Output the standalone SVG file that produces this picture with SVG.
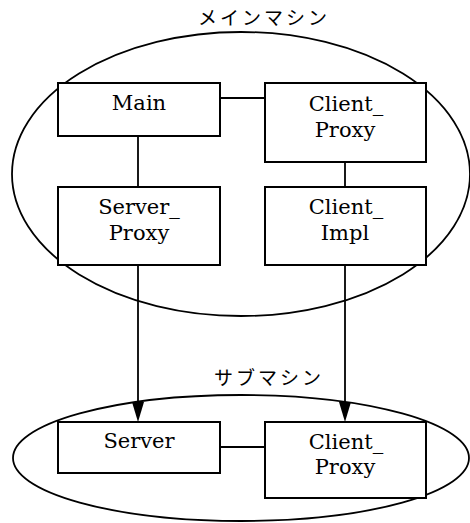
<svg xmlns="http://www.w3.org/2000/svg" width="470" height="523" viewBox="0 0 470 523">
<defs>
<style>
.box{fill:#fff;stroke:#000;stroke-width:2}
.ell{fill:none;stroke:#000;stroke-width:1.8}
.t{font-family:"DejaVu Serif","Liberation Serif",serif;font-size:21px;text-anchor:middle;fill:#000}
.jp{font-family:"Noto Sans CJK JP",sans-serif;font-size:19px;text-anchor:middle;fill:#000;letter-spacing:3px}
.ln{stroke:#000;stroke-width:1.8;fill:none}
</style>
</defs>
<rect width="470" height="523" fill="#fff"/>
<g id="main-machine">
<ellipse class="ell" cx="241" cy="174" rx="229" ry="142"/>
<text class="jp" x="264" y="25">メインマシン</text>
</g>
<g id="sub-machine">
<ellipse class="ell" cx="241" cy="458" rx="228" ry="63"/>
<text class="jp" x="269" y="385">サブマシン</text>
</g>
<g id="connectors">
<line class="ln" x1="220" y1="98" x2="265" y2="98"/>
<line class="ln" x1="138" y1="136" x2="138" y2="187"/>
<line class="ln" x1="345" y1="162" x2="345" y2="187"/>
<line class="ln" x1="220" y1="447" x2="265" y2="447"/>
<path d="M138,265 V404" class="ln"/>
<path d="M132,402 L144,402 L138,422 Z" fill="#000"/>
<path d="M345,265 V404" class="ln"/>
<path d="M339,402 L351,402 L345,422 Z" fill="#000"/>
</g>
<g id="Main">
<rect class="box" x="58" y="83" width="162" height="53"/>
<text class="t" x="139" y="110">Main</text>
</g>
<g id="Client_Proxy_main">
<rect class="box" x="265" y="83" width="161" height="79"/>
<text class="t" x="346" y="111">Client_</text>
<text class="t" x="345" y="137">Proxy</text>
</g>
<g id="Server_Proxy">
<rect class="box" x="58" y="187" width="162" height="78"/>
<text class="t" x="139" y="214">Server_</text>
<text class="t" x="139" y="240">Proxy</text>
</g>
<g id="Client_Impl">
<rect class="box" x="265" y="187" width="161" height="78"/>
<text class="t" x="346" y="214">Client_</text>
<text class="t" x="345" y="240">Impl</text>
</g>
<g id="Server">
<rect class="box" x="58" y="422" width="162" height="51"/>
<text class="t" x="139" y="448">Server</text>
</g>
<g id="Client_Proxy_sub">
<rect class="box" x="265" y="422" width="161" height="76"/>
<text class="t" x="346" y="449">Client_</text>
<text class="t" x="345" y="474">Proxy</text>
</g>
</svg>
